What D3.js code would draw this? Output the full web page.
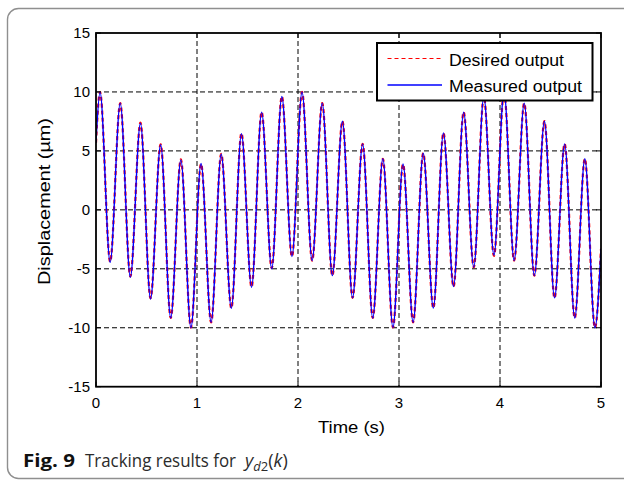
<!DOCTYPE html>
<html><head><meta charset="utf-8">
<script src="https://cdn.jsdelivr.net/npm/d3@7"></script>
<style>html,body{margin:0;padding:0;background:#fff;}svg{display:block;}</style>
</head><body>
<svg id="chart" width="624" height="481"></svg>
<script>
// ---- data ----
const xTicks = [0, 1, 2, 3, 4, 5];
const yTicks = [-15, -10, -5, 0, 5, 10, 15];
const xTickLabels = ["0", "1", "2", "3", "4", "5"];
const yTickLabels = ["-15", "-10", "-5", "0", "5", "10", "15"];
const seriesNames = ["Desired output", "Measured output"];

// sample times (s) at the turning points of the trace
const timeS = [0,
  0.04, 0.14, 0.24, 0.34, 0.44, 0.54, 0.64, 0.74, 0.84, 0.94,
  1.04, 1.14, 1.24, 1.34, 1.44, 1.54, 1.64, 1.74, 1.84, 1.94,
  2.04, 2.14, 2.24, 2.34, 2.44, 2.54, 2.64, 2.74, 2.84, 2.94,
  3.04, 3.14, 3.24, 3.34, 3.44, 3.54, 3.64, 3.74, 3.84, 3.94,
  4.04, 4.14, 4.24, 4.34, 4.44, 4.54, 4.64, 4.74, 4.84, 4.94,
  5.0];
const desiredUm = [5.7,
  10, -4.4, 9.05, -5.65, 7.4, -7.5, 5.55, -9.17, 4.28, -10,
  3.9, -9.54, 4.75, -8.34, 6.5, -6.54, 8.29, -4.95, 9.62, -3.96,
  10, -4.3, 9.05, -5.58, 7.52, -7.47, 5.6, -9.17, 4.33, -9.97,
  3.87, -9.54, 4.8, -8.33, 6.53, -6.51, 8.29, -4.87, 9.6, -3.9,
  10, -4.3, 9.05, -5.58, 7.52, -7.47, 5.6, -9.17, 4.33, -10,
  -3.3];
const measuredUm = [5.7,
  10, -4.45, 9.05, -5.72, 7.35, -7.56, 5.52, -9.17, 4.24, -10,
  3.93, -9.54, 4.72, -8.35, 6.45, -6.57, 8.29, -5.01, 9.62, -3.96,
  10, -4.3, 9.05, -5.58, 7.52, -7.47, 5.6, -9.17, 4.33, -9.97,
  3.9, -9.54, 4.8, -8.33, 6.53, -6.51, 8.29, -4.87, 9.6, -3.84,
  10, -4.3, 9.05, -5.58, 7.52, -7.47, 5.6, -9.17, 4.33, -10,
  -3.3];

// ---- drawing ----
const svg = d3.select("#chart");
const L = 96, R = 601, T = 33, B = 386.7;
const x = d3.scaleLinear().domain([0, 5]).range([L, R]);
const y = d3.scaleLinear().domain([-15, 15]).range([B, T]);

// outer rounded frame
svg.append("rect").attr("x", 7.5).attr("y", 8.5).attr("width", 660).attr("height", 470)
  .attr("rx", 11).attr("fill", "none").attr("stroke", "#8f8f8f").attr("stroke-width", 1.4);

// grid
const g = svg.append("g");
g.selectAll(".gx").data(xTicks.filter(d => d > 0 && d < 5)).enter().append("line")
  .attr("x1", d => x(d)).attr("x2", d => x(d)).attr("y1", T).attr("y2", B)
  .attr("stroke", "#000").attr("stroke-width", 1).attr("stroke-dasharray", "5,3");
g.selectAll(".gy").data(yTicks.filter(d => d > -15 && d < 15)).enter().append("line")
  .attr("x1", L).attr("x2", R).attr("y1", d => y(d)).attr("y2", d => y(d))
  .attr("stroke", "#000").attr("stroke-width", 1).attr("stroke-dasharray", "5,3");

// series
const lineGen = d3.line().x(d => x(d[0])).y(d => y(d[1])).curve(d3.curveMonotoneX);
const desired = timeS.map((t, i) => [t, desiredUm[i]]);
const measured = timeS.map((t, i) => [t, measuredUm[i]]);
svg.append("clipPath").attr("id", "pc").append("rect")
  .attr("x", L).attr("y", T).attr("width", R - L).attr("height", B - T);
svg.append("path").datum(desired).attr("d", lineGen).attr("clip-path", "url(#pc)")
  .attr("fill", "none").attr("stroke", "#ff0000").attr("stroke-width", 2.2).attr("stroke-dasharray", "4,3");
svg.append("path").datum(measured).attr("d", lineGen).attr("clip-path", "url(#pc)")
  .attr("fill", "none").attr("stroke", "#0000ff").attr("stroke-width", 1.4);

// axes box and ticks (inward ticks on all four sides)
const tickLen = 5;
const ax = svg.append("g");
xTicks.forEach(d => {
  ax.append("line").attr("x1", x(d)).attr("x2", x(d)).attr("y1", B).attr("y2", B - tickLen).attr("stroke", "#000");
  ax.append("line").attr("x1", x(d)).attr("x2", x(d)).attr("y1", T).attr("y2", T + tickLen).attr("stroke", "#000");
});
yTicks.forEach(d => {
  ax.append("line").attr("x1", L).attr("x2", L + tickLen).attr("y1", y(d)).attr("y2", y(d)).attr("stroke", "#000");
  ax.append("line").attr("x1", R).attr("x2", R - tickLen).attr("y1", y(d)).attr("y2", y(d)).attr("stroke", "#000");
});
ax.append("rect").attr("x", L).attr("y", T).attr("width", R - L).attr("height", B - T)
  .attr("fill", "none").attr("stroke", "#000").attr("stroke-width", 1.8);

const fontAx = "'Liberation Sans', Arial, sans-serif";
// tick labels
svg.selectAll(".xl").data(xTicks).enter().append("text")
  .attr("x", d => x(d)).attr("y", 407.5).attr("text-anchor", "middle")
  .attr("font-family", fontAx).attr("font-size", 15).attr("fill", "#000")
  .text((d, i) => xTickLabels[i]);
svg.selectAll(".yl").data(yTicks).enter().append("text")
  .attr("x", 90).attr("y", d => y(d) + 5.3).attr("text-anchor", "end")
  .attr("font-family", fontAx).attr("font-size", 15).attr("fill", "#000")
  .text((d, i) => yTickLabels[i]);

// axis titles
svg.append("text").attr("x", 318).attr("y", 432.5)
  .attr("font-family", fontAx).attr("font-size", 16).attr("fill", "#000")
  .attr("textLength", 67).attr("lengthAdjust", "spacingAndGlyphs").text("Time (s)");
svg.append("text").attr("transform", "translate(49.5,285) rotate(-90)")
  .attr("font-family", fontAx).attr("font-size", 16.5).attr("fill", "#000")
  .attr("textLength", 167).attr("lengthAdjust", "spacingAndGlyphs").text("Displacement (\u00b5m)");

// legend
const lg = svg.append("g");
lg.append("rect").attr("x", 377).attr("y", 43).attr("width", 215.5).attr("height", 57.5)
  .attr("fill", "#fff").attr("stroke", "#000").attr("stroke-width", 2);
lg.append("line").attr("x1", 387.5).attr("x2", 442).attr("y1", 58.5).attr("y2", 58.5)
  .attr("stroke", "#ff0000").attr("stroke-width", 1.2).attr("stroke-dasharray", "4,3");
lg.append("line").attr("x1", 387.5).attr("x2", 442).attr("y1", 85).attr("y2", 85)
  .attr("stroke", "#0000ff").attr("stroke-width", 1.4);
lg.append("text").attr("x", 449).attr("y", 65.7).attr("font-family", fontAx).attr("font-size", 16)
  .attr("textLength", 115).attr("lengthAdjust", "spacingAndGlyphs").text(seriesNames[0]);
lg.append("text").attr("x", 449).attr("y", 92.3).attr("font-family", fontAx).attr("font-size", 16)
  .attr("textLength", 133).attr("lengthAdjust", "spacingAndGlyphs").text(seriesNames[1]);

// caption
const fontCap = "'Open Sans', 'Noto Sans', sans-serif";
svg.append("text").attr("x", 23).attr("y", 466.5).attr("font-family", fontCap)
  .attr("font-size", 18).attr("font-weight", "bold").attr("fill", "#111")
  .attr("textLength", 52).attr("lengthAdjust", "spacingAndGlyphs").text("Fig. 9");
svg.append("text").attr("x", 85).attr("y", 466.5).attr("font-family", fontCap)
  .attr("font-size", 18).attr("fill", "#2b2b2b")
  .attr("textLength", 151).attr("lengthAdjust", "spacingAndGlyphs").text("Tracking results for");
const cap3 = svg.append("text").attr("x", 245).attr("y", 466.5).attr("font-family", fontCap)
  .attr("font-size", 18).attr("fill", "#2b2b2b");
cap3.append("tspan").attr("font-style", "italic").text("y");
cap3.append("tspan").attr("font-style", "italic").attr("font-size", 13).attr("dy", 4).text("d");
cap3.append("tspan").attr("font-size", 13).text("2");
cap3.append("tspan").attr("dy", -4).text("(");
cap3.append("tspan").attr("font-style", "italic").text("k");
cap3.append("tspan").text(")");
</script>
</body></html>
